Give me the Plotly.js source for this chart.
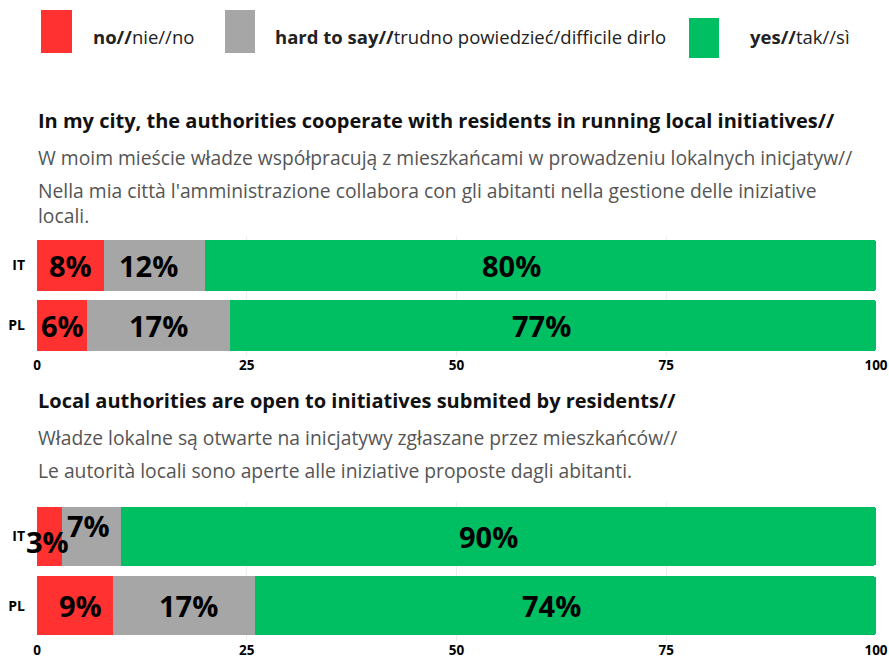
<!DOCTYPE html>
<html>
<head>
<meta charset="utf-8">
<script src="https://cdn.plot.ly/plotly-3.0.1.min.js"></script>
<style>html,body{margin:0;padding:0;background:#fff}#chart{width:889px;height:659px}</style>
</head>
<body>
<div id="chart"></div>
<script>
// ---- data ----
const countries = ['IT', 'PL'];
const q1No = [8, 6];
const q1Hard = [12, 17];
const q1Yes = [80, 77];
const q2No = [3, 9];
const q2Hard = [7, 17];
const q2Yes = [90, 74];
const xTicks = [0, 25, 50, 75, 100];
const seriesNames = ['no//nie//no', 'hard to say//trudno powiedzieć/difficile dirlo', 'yes//tak//sì'];
const q1Lines = [
  'In my city, the authorities cooperate with residents in running local initiatives//',
  'W moim mieście władze współpracują z mieszkańcami w prowadzeniu lokalnych inicjatyw//',
  "Nella mia città l'amministrazione collabora con gli abitanti nella gestione delle iniziative",
  'locali.'
];
const q2Lines = [
  'Local authorities are open to initiatives submited by residents//',
  'Władze lokalne są otwarte na inicjatywy zgłaszane przez mieszkańców//',
  'Le autorità locali sono aperte alle iniziative proposte dagli abitanti.'
];

// ---- style ----
const W = 889, H = 659;
const ML = 37, MR = 13;
const colors = ['#FF3131', '#A6A6A6', '#00BF63'];
const FONT = 'Open Sans, sans-serif';
const py = p => 1 - p / H;                 // pixel row -> paper y
const px = p => (p - ML) / (W - ML - MR);  // pixel col -> paper x

function barTraces(no, hard, yes, xa, ya) {
  return [no, hard, yes].map((vals, i) => ({
    type: 'bar', orientation: 'h', y: countries, x: vals, name: seriesNames[i],
    xaxis: xa, yaxis: ya, marker: {color: colors[i], line: {width: 0}},
    hoverinfo: 'x+y', showlegend: false
  }));
}

const data = [
  ...barTraces(q1No, q1Hard, q1Yes, 'x', 'y'),
  ...barTraces(q2No, q2Hard, q2Yes, 'x2', 'y2')
];

// bar value labels placed through the axes; small pixel nudges as in the original
const annotations = [];
const nudge = {
  'y|IT|1': {dx: -6, dy: 0},
  'y|IT|2': {dx: -29, dy: 0},
  'y|PL|2': {dx: -11, dy: 0},
  'y2|IT|0': {dx: -2, dy: -5},
  'y2|IT|1': {dx: -3, dy: 11},
  'y2|IT|2': {dx: -10, dy: 0},
  'y2|PL|0': {dx: 6, dy: 0},
  'y2|PL|1': {dx: 5, dy: 0},
  'y2|PL|2': {dx: -14, dy: 0}
};
function addLabels(no, hard, yes, xa, ya) {
  countries.forEach((c, k) => {
    let start = 0;
    [no[k], hard[k], yes[k]].forEach((v, i) => {
      const s = nudge[ya + '|' + c + '|' + i] || {dx: 0, dy: 0};
      annotations.push({
        xref: xa, yref: ya, x: start + v / 2, y: c, text: '<b>' + v + '%</b>',
        showarrow: false, xanchor: 'center', yanchor: 'middle',
        xshift: s.dx, yshift: s.dy,
        font: {family: FONT, size: 29, color: '#000', weight: 800}
      });
      start += v;
    });
  });
}
addLabels(q1No, q1Hard, q1Yes, 'x', 'y');
addLabels(q2No, q2Hard, q2Yes, 'x2', 'y2');

// question texts
function addLines(lines, rows) {
  lines.forEach((t, i) => {
    annotations.push({
      xref: 'paper', yref: 'paper', x: px(36), y: py(rows[i]), xanchor: 'left', yanchor: 'middle',
      showarrow: false, text: i === 0 ? '<b>' + t + '</b>' : t, align: 'left',
      font: {family: FONT, size: i === 0 ? 20 : 19.3, color: i === 0 ? '#111111' : '#555555'}
    });
  });
}
addLines(q1Lines, [120, 158, 190, 215]);
addLines(q2Lines, [400, 437, 470]);

// legend (drawn manually)
const shapes = [];
const legendBoxes = [[41, 72, 10, 53], [225, 255, 10, 53], [689, 719, 18, 58]];
const legendTextX = [91, 273, 748];
seriesNames.forEach((n, i) => {
  const b = legendBoxes[i];
  shapes.push({type: 'rect', xref: 'paper', yref: 'paper', x0: px(b[0]), x1: px(b[1]), y0: py(b[3]), y1: py(b[2]),
    fillcolor: colors[i], line: {width: 0}});
  const parts = n.split('//');
  const txt = '<b>' + parts[0] + '//</b>' + parts.slice(1).join('//');
  annotations.push({xref: 'paper', yref: 'paper', x: px(legendTextX[i]), y: py(36), xanchor: 'left', yanchor: 'middle',
    showarrow: false, text: txt, font: {family: FONT, size: 18.5, color: '#222'}});
});

const xaxisBase = {
  range: [0, 100], tickvals: xTicks, ticktext: xTicks.map(String), showgrid: true, gridcolor: '#eeeeee', gridwidth: 1,
  zeroline: false, showline: false, ticks: '', fixedrange: true, automargin: false,
  tickfont: {family: FONT, size: 13.5, color: '#000', weight: 'bold'}
};
const yaxisBase = {
  type: 'category', autorange: 'reversed', showgrid: false, zeroline: false, showline: false, ticks: '',
  automargin: false, ticklabelstandoff: 11, tickfont: {family: FONT, size: 14, color: '#000', weight: 'bold'}
};

const layout = {
  width: W, height: H, margin: {l: ML, r: MR, t: 0, b: 0},
  paper_bgcolor: '#fff', plot_bgcolor: '#fff',
  barmode: 'stack', bargap: 0.15, barcornerradius: 3, showlegend: false,
  xaxis: {...xaxisBase, anchor: 'y'},
  yaxis: {...yaxisBase, domain: [py(355.5), py(235.5)], anchor: 'x'},
  xaxis2: {...xaxisBase, anchor: 'y2'},
  yaxis2: {...yaxisBase, domain: [py(640.5), py(501.5)], anchor: 'x2'},
  annotations: annotations, shapes: shapes
};

Plotly.newPlot('chart', data, layout, {displayModeBar: false, staticPlot: true});
</script>
</body>
</html>
